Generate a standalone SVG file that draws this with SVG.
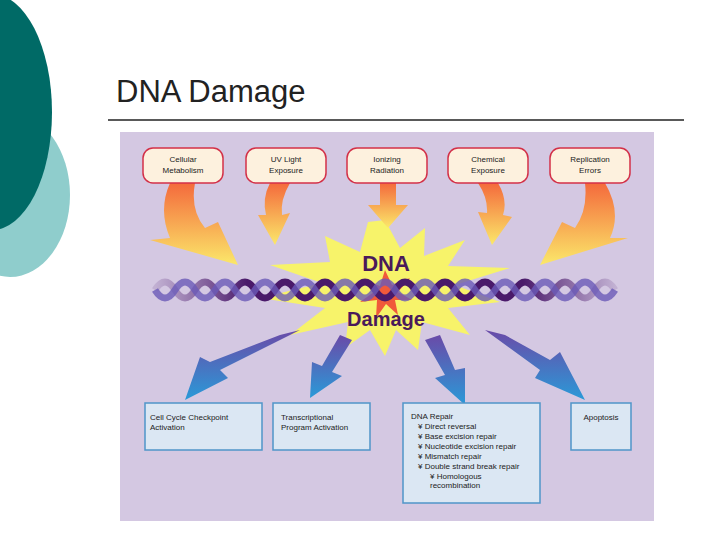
<svg xmlns="http://www.w3.org/2000/svg" width="720" height="540" viewBox="0 0 720 540">
<defs>
<linearGradient id="og" x1="0" y1="0" x2="0" y2="1"><stop offset="0" stop-color="#f46a3c"/><stop offset="1" stop-color="#fbe86a"/></linearGradient>
<linearGradient id="bg" x1="0" y1="0" x2="0" y2="1"><stop offset="0" stop-color="#6a4aa8"/><stop offset="1" stop-color="#2a9ad8"/></linearGradient>
<linearGradient id="hx" x1="0" y1="0" x2="1" y2="0"><stop offset="0" stop-color="#5a2a7a" stop-opacity="0.15"/><stop offset="0.2" stop-color="#4a1a6a"/><stop offset="0.8" stop-color="#4a1a6a"/><stop offset="1" stop-color="#5a2a7a" stop-opacity="0.15"/></linearGradient>
<style>
.t{font-family:"Liberation Sans",Arial,sans-serif;font-size:8px;fill:#222}
.top{fill:#fdf1de;stroke:#d33048;stroke-width:1.5}
.bot{fill:#dbe7f3;stroke:#4f95c9;stroke-width:1.5}
.oa{fill:url(#og)}
.ba{fill:url(#bg)}
</style>
</defs>
<rect width="720" height="540" fill="#fff"/>
<ellipse cx="10" cy="195" rx="60" ry="82" fill="#8fcdcc"/>
<ellipse cx="-8" cy="112" rx="60" ry="118" fill="#006a66"/>
<text x="116" y="102" font-family="Liberation Sans,Arial,sans-serif" font-size="31" fill="#222">DNA Damage</text>
<line x1="108" y1="120" x2="684" y2="120" stroke="#222" stroke-width="1.5"/>
<rect x="120" y="132" width="534" height="389" fill="#d4c8e2"/>
<g id="starburst">
<polygon fill="#f7f36a" points="385,220 400,248 425,228 424,256 465,240 448,266 510,268 455,285 500,302 448,308 470,335 422,322 418,350 396,330 385,356 370,330 345,348 348,322 290,335 325,308 260,298 322,283 270,265 330,262 325,236 360,252 368,222"/>
<polygon fill="#f05a3a" points="385,270 392,285 410,278 398,292 412,300 395,300 398,315 386,304 376,318 377,300 360,302 374,292 362,280 380,286"/>
</g>
<g id="helix" fill="none" stroke="url(#hx)" stroke-width="7">
<path d="M155,290 q10,-16 20,0 t20,0 t20,0 t20,0 t20,0 t20,0 t20,0 t20,0 t20,0 t20,0 t20,0 t20,0 t20,0 t20,0 t20,0 t20,0 t20,0 t20,0 t20,0 t20,0 t20,0 t20,0 t20,0"/>
<path d="M155,290 q10,16 20,0 t20,0 t20,0 t20,0 t20,0 t20,0 t20,0 t20,0 t20,0 t20,0 t20,0 t20,0 t20,0 t20,0 t20,0 t20,0 t20,0 t20,0 t20,0 t20,0 t20,0 t20,0 t20,0" stroke="#6a5ab8" stroke-opacity="0.8"/>
</g>
<text x="386" y="271" text-anchor="middle" font-family="Liberation Sans,Arial,sans-serif" font-weight="bold" font-size="22" fill="#4a1a5a">DNA</text>
<text x="386" y="326" text-anchor="middle" font-family="Liberation Sans,Arial,sans-serif" font-weight="bold" font-size="20" fill="#4a1a5a">Damage</text>
<g id="connectors">
<path class="oa" d="M170,183 L195,183 Q190,210 205,228 L218,222 L238,265 L150,240 L170,238 Q158,210 170,183Z"/>
<path class="oa" d="M270,183 L290,183 Q280,200 282,215 L290,213 L275,245 L258,215 L266,215 Q262,198 270,183Z"/>
<path class="oa" d="M380,183 L396,183 L396,205 L408,205 L388,228 L368,205 L380,205Z"/>
<path class="oa" d="M478,183 L498,183 Q508,200 503,215 L512,217 L492,245 L478,212 L487,213 Q488,198 478,183Z"/>
<path class="oa" d="M585,183 L605,183 Q622,212 610,238 L628,238 L540,265 L562,222 L575,228 Q588,210 585,183Z"/>
<path class="ba" d="M280,335 L300,330 L220,370 L228,378 L185,400 L200,357 L210,362Z"/>
<path class="ba" d="M340,335 L352,340 L332,372 L342,376 L310,398 L312,362 L322,366Z"/>
<path class="ba" d="M425,340 L440,335 L455,370 L465,368 L465,405 L435,378 L445,375Z"/>
<path class="ba" d="M485,330 L505,335 L550,360 L560,352 L585,400 L535,378 L540,370Z"/>
</g>
<g id="n1"><rect class="top" x="143" y="148" width="80" height="35" rx="10"/><text class="t" x="183" y="162" text-anchor="middle">Cellular</text><text class="t" x="183" y="173" text-anchor="middle">Metabolism</text></g>
<g id="n2"><rect class="top" x="246" y="148" width="80" height="35" rx="10"/><text class="t" x="286" y="162" text-anchor="middle">UV Light</text><text class="t" x="286" y="173" text-anchor="middle">Exposure</text></g>
<g id="n3"><rect class="top" x="347" y="148" width="80" height="35" rx="10"/><text class="t" x="387" y="162" text-anchor="middle">Ionizing</text><text class="t" x="387" y="173" text-anchor="middle">Radiation</text></g>
<g id="n4"><rect class="top" x="448" y="148" width="80" height="35" rx="10"/><text class="t" x="488" y="162" text-anchor="middle">Chemical</text><text class="t" x="488" y="173" text-anchor="middle">Exposure</text></g>
<g id="n5"><rect class="top" x="550" y="148" width="80" height="35" rx="10"/><text class="t" x="590" y="162" text-anchor="middle">Replication</text><text class="t" x="590" y="173" text-anchor="middle">Errors</text></g>
<g id="b1"><rect class="bot" x="145" y="403" width="117" height="47"/><text class="t" x="150" y="420">Cell Cycle Checkpoint</text><text class="t" x="150" y="430">Activation</text></g>
<g id="b2"><rect class="bot" x="273" y="403" width="97" height="47"/><text class="t" x="281" y="420">Transcriptional</text><text class="t" x="281" y="430">Program Activation</text></g>
<g id="b3"><rect class="bot" x="403" y="403" width="137" height="100"/>
<text class="t" x="411" y="419">DNA Repair</text>
<text class="t" x="418" y="429">¥ Direct reversal</text>
<text class="t" x="418" y="439">¥ Base excision repair</text>
<text class="t" x="418" y="449">¥ Nucleotide excision repair</text>
<text class="t" x="418" y="459">¥ Mismatch repair</text>
<text class="t" x="418" y="469">¥ Double strand break repair</text>
<text class="t" x="430" y="479" font-size="7">¥       Homologous</text>
<text class="t" x="430" y="488" font-size="7">recombination</text></g>
<g id="b4"><rect class="bot" x="571" y="403" width="60" height="47"/><text class="t" x="601" y="420" text-anchor="middle">Apoptosis</text></g>
</svg>
